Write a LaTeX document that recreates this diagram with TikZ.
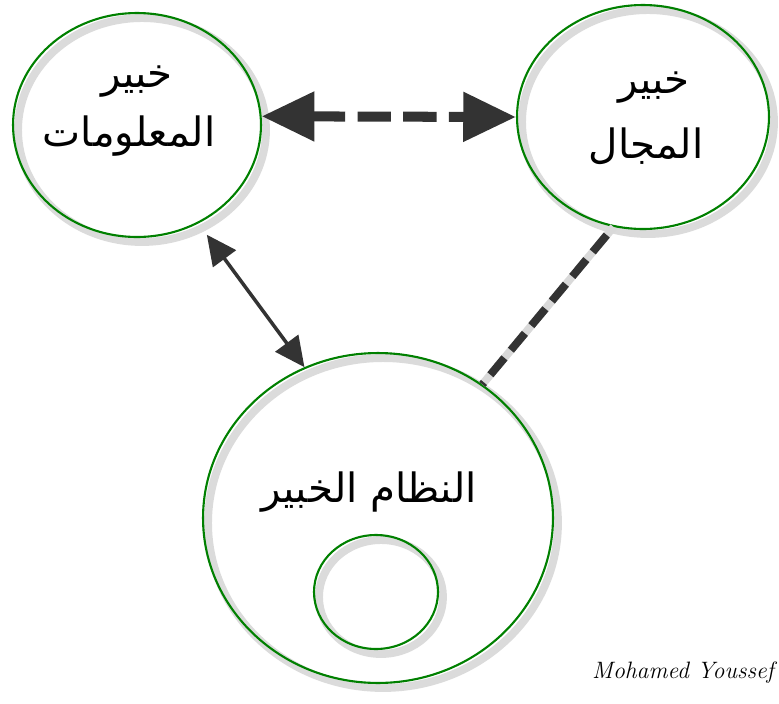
\documentclass[tikz,border=0pt]{standalone}
\usepackage{fontspec}
\newfontfamily\arabicfont[Script=Arabic]{DejaVu Sans}
\TeXXeTstate=1
\usetikzlibrary{shapes.geometric,arrows.meta}
\definecolor{ringgreen}{RGB}{0,128,0}
\definecolor{darkline}{RGB}{51,51,51}

\begin{document}
\begin{tikzpicture}[x=0.02cm,y=-0.02cm,
  ring/.style={ellipse,draw=ringgreen,line width=1.2pt,inner sep=0pt},
  halo/.style={ellipse,draw=gray!28,line width=4.5pt,inner sep=0pt},
  arabic/.style={font=\arabicfont\fontsize{23}{26}\selectfont,inner sep=0pt},
  bigarrow/.style={draw=darkline,line width=5.7pt,dash pattern=on 19pt off 7pt,
    {Triangle[length=30pt,width=27pt]}-{Triangle[length=30pt,width=27pt]}},
  thinarrow/.style={draw=darkline,line width=2pt,
    {Triangle[length=17pt,width=16pt]}-{Triangle[length=17pt,width=16pt]}},
  link/.style={line width=4.5pt,dash pattern=on 12.5pt off 5.7pt}]
\useasboundingbox (0,0) rectangle (779,704);
% shadows
\node[halo,minimum width=4.96cm,minimum height=4.48cm] at (142,130) {};
\node[halo,minimum width=5.04cm,minimum height=4.48cm] at (648,122) {};
\node[halo,minimum width=7cm,minimum height=6.6cm] at (383,523) {};
\node[halo,minimum width=2.48cm,minimum height=2.28cm] at (381,597) {};
% circles
\node[ring,minimum width=4.96cm,minimum height=4.48cm] (info) at (137,125) {};
\node[ring,minimum width=5.04cm,minimum height=4.48cm] (domain) at (643,117) {};
\node[ring,minimum width=7cm,minimum height=6.6cm] (system) at (378,518) {};
\node[ring,minimum width=2.48cm,minimum height=2.28cm] (core) at (376,592) {};
% texts
\node[arabic] (infoa) at (137,82) {\beginR خبير\endR};
\node[arabic] (infob) at (129,136) {\beginR المعلومات\endR};
\node[arabic] (domaina) at (654,88) {\beginR خبير\endR};
\node[arabic] (domainb) at (646,146) {\beginR المجال\endR};
\node[arabic] (systema) at (369,492) {\beginR النظام الخبير\endR};
\node[font=\itshape\fontsize{13.5}{16}\selectfont,inner sep=0pt] (sign) at (683,673) {Mohamed Youssef};
% connectors
\draw[bigarrow] (info.4) -- (domain.west);
\draw[thinarrow,shorten <=8pt] (info.-58) -- (system.116);
\draw[link,draw=gray!30,xshift=5pt,yshift=-3pt] (domain.-105) -- (system.52);
\draw[link,draw=darkline,shorten <=6pt] (domain.-105) -- (system.52);
\end{tikzpicture}
\end{document}
